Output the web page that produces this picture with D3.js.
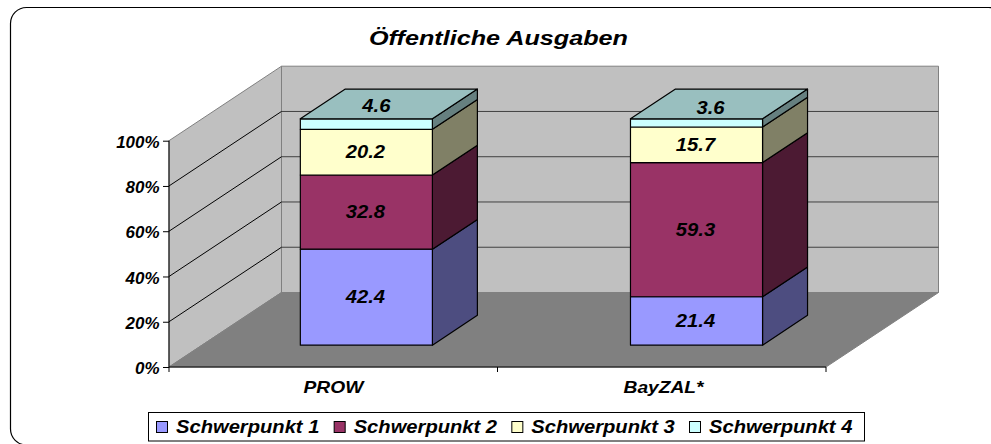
<!DOCTYPE html>
<html>
<head>
<meta charset="utf-8">
<script src="https://cdn.jsdelivr.net/npm/d3@7"></script>
<style>
    html, body { margin: 0; padding: 0; background: #fff; overflow: hidden; }
    text { font-family: "Liberation Sans", Arial, sans-serif; font-weight: bold; font-style: italic; fill: #000; }
</style>
</head>
<body>
<div id="chart"></div>
<script>
const categories = ['PROW', 'BayZAL*'];
const seriesNames = ['Schwerpunkt 1', 'Schwerpunkt 2', 'Schwerpunkt 3', 'Schwerpunkt 4'];
const prowValues = [42.4, 32.8, 20.2, 4.6];
const bayzalValues = [21.4, 59.3, 15.7, 3.6];
const yTicks = [0, 20, 40, 60, 80, 100];
const chartTitle = 'Öffentliche Ausgaben';

const colors = ['#9999ff', '#993366', '#ffffcc', '#ccffff'];
const sideColors = ['#4d4d80', '#4c1a33', '#808066', '#668080'];
const topColor = '#99bfbf';

const width = 991;
const height = 444;

const table = categories.map((c, i) => {
    const row = { cat: c };
    seriesNames.forEach((s, j) => {
        row[s] = [prowValues, bayzalValues][i][j];
    });
    return row;
});
const stacked = d3.stack().keys(seriesNames)(table);

const x = d3.scaleBand().domain(categories).range([169, 826]).paddingInner(0.6).paddingOuter(0.295).align(0.505);
const y = d3.scaleLinear().domain([0, 100]).range([367, 140.7]);
// depth axis: 0 = front plane, 1 = back wall
const depthX = d3.scaleLinear().domain([0, 1]).range([0, 112.5]);
const depthY = d3.scaleLinear().domain([0, 1]).range([0, -74.5]);
const barFront = 0.293;
const barBack = 0.693;

const pt = (px, val, z) => [px + depthX(z), y(val) + depthY(z)];
const poly = pts => pts.map(p => p.join(',')).join(' ');

// the original text is wider than the font, stretch it horizontally
function stretch(sel, k) {
    sel.each(function () {
        const w = this.getComputedTextLength();
        d3.select(this).attr('textLength', w * k).attr('lengthAdjust', 'spacingAndGlyphs');
    });
}

const svg = d3.select('#chart').append('svg')
    .attr('width', width)
    .attr('height', height)
    .style('display', 'block');

// outer frame, runs off the right and bottom edge
svg.append('rect')
    .attr('x', 10.5).attr('y', 7.5)
    .attr('width', 994).attr('height', 437.5)
    .attr('rx', 16).attr('ry', 16)
    .attr('fill', '#fff').attr('stroke', '#000').attr('stroke-width', 1.2);

svg.append('text')
    .attr('x', 498.5).attr('y', 45)
    .attr('text-anchor', 'middle')
    .style('font-size', '21px')
    .text(chartTitle)
    .call(stretch, 1.2);

const left = x.range()[0];
const right = x.range()[1];

// walls and floor
const walls = svg.append('g');
walls.append('polygon')
    .attr('points', poly([pt(left, 0, 0), pt(left, 0, 1), pt(left, 100, 1), pt(left, 100, 0)]))
    .attr('fill', '#c0c0c0').attr('stroke', '#808080');
walls.append('polygon')
    .attr('points', poly([pt(left, 0, 1), pt(right, 0, 1), pt(right, 100, 1), pt(left, 100, 1)]))
    .attr('fill', '#c0c0c0').attr('stroke', '#808080');
walls.append('polygon')
    .attr('points', poly([pt(left, 0, 0), pt(right, 0, 0), pt(right, 0, 1), pt(left, 0, 1)]))
    .attr('fill', '#808080').attr('stroke', '#808080');

// gridlines, back wall and side wall
const grid = svg.append('g');
yTicks.filter(t => t > 0 && t < 100).forEach(t => {
    const a = pt(left, t, 0), b = pt(left, t, 1), c = pt(right, t, 1);
    grid.append('line')
        .attr('x1', b[0]).attr('y1', b[1]).attr('x2', c[0]).attr('y2', c[1])
        .attr('stroke', '#404040');
    grid.append('line')
        .attr('x1', a[0]).attr('y1', a[1]).attr('x2', b[0]).attr('y2', b[1])
        .attr('stroke', '#000');
});

// axes
const yAxis = d3.axisLeft(y).tickValues(yTicks).tickSize(6).tickFormat(d => d + '%');
svg.append('g').attr('transform', `translate(${left},0)`).call(yAxis)
    .call(g => g.select('.domain').attr('stroke', '#000').attr('d', `M0,${y(0)}V${y(100)}`))
    .call(g => g.selectAll('text').attr('x', -9.5).attr('y', 1.5).style('font-size', '16px').style('font-family', null)
        .call(stretch, 1.06));

const xAxis = d3.axisBottom(x).tickSize(0);
svg.append('g').attr('transform', `translate(0,${y(0)})`).call(xAxis)
    .call(g => g.select('.domain').attr('stroke', '#000').attr('d', `M${left},0H${right}`))
    .call(g => g.selectAll('text').attr('y', 20).attr('dy', '0.35em').style('font-size', '17px').style('font-family', null)
        .call(stretch, 1.13));
const xTickPos = [left, (left + right) / 2, right];
svg.append('g').selectAll('line').data(xTickPos).join('line')
    .attr('x1', d => d).attr('x2', d => d)
    .attr('y1', y(0)).attr('y2', y(0) + 5)
    .attr('stroke', '#000');

// bars
const bars = svg.append('g').attr('stroke', '#000').attr('stroke-width', 1.2).attr('stroke-linejoin', 'round');
categories.forEach((cat, i) => {
    const bx0 = x(cat);
    const bx1 = bx0 + x.bandwidth();
    stacked.forEach((layer, s) => {
        const [v0, v1] = layer[i];
        // side face
        bars.append('polygon')
            .attr('points', poly([pt(bx1, v0, barFront), pt(bx1, v0, barBack), pt(bx1, v1, barBack), pt(bx1, v1, barFront)]))
            .attr('fill', sideColors[s]);
        // front face
        bars.append('polygon')
            .attr('points', poly([pt(bx0, v0, barFront), pt(bx1, v0, barFront), pt(bx1, v1, barFront), pt(bx0, v1, barFront)]))
            .attr('fill', colors[s]);
        if (s === stacked.length - 1) {
            bars.append('polygon')
                .attr('points', poly([pt(bx0, v1, barFront), pt(bx1, v1, barFront), pt(bx1, v1, barBack), pt(bx0, v1, barBack)]))
                .attr('fill', topColor);
        }
    });
});

// value labels, the top series sits on the lid of the bar
const lidOffset = [[10, -13], [14, -11]];
const labels = svg.append('g');
categories.forEach((cat, i) => {
    const cx = x(cat) + x.bandwidth() / 2;
    stacked.forEach((layer, s) => {
        const [v0, v1] = layer[i];
        const last = s === stacked.length - 1;
        const p = last ? pt(cx, v1, barFront) : pt(cx, (v0 + v1) / 2, barFront);
        labels.append('text')
            .attr('x', p[0] + (last ? lidOffset[i][0] : -1))
            .attr('y', p[1] + (last ? lidOffset[i][1] : 0))
            .attr('dy', '0.35em')
            .attr('text-anchor', 'middle')
            .style('font-size', '18px')
            .text((v1 - v0).toFixed(1))
            .call(stretch, 1.12);
    });
});

// legend
const legend = svg.append('g');
legend.append('rect')
    .attr('x', 148.5).attr('y', 412.5)
    .attr('width', 716).attr('height', 28.5)
    .attr('fill', '#fff').attr('stroke', '#000');
const legendX = d3.scalePoint().domain(seriesNames).range([156.5, 689.5]);
const items = legend.selectAll('g').data(seriesNames).join('g')
    .attr('transform', d => `translate(${legendX(d)},427)`);
items.append('rect')
    .attr('x', 0).attr('y', -5.5)
    .attr('width', 11).attr('height', 11)
    .attr('fill', (d, i) => colors[i])
    .attr('stroke', '#000');
items.append('text')
    .attr('x', 19.5).attr('dy', '0.35em')
    .style('font-size', '18px')
    .text(d => d)
    .call(stretch, 1.12);
</script>
</body>
</html>
